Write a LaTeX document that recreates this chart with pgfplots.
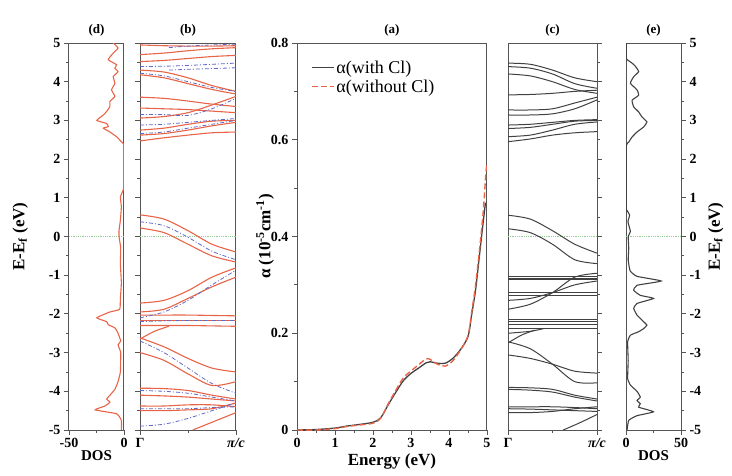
\documentclass[border=0pt]{standalone}
\usepackage{fontspec}
\setmainfont{Liberation Serif}
\usepackage{pgfplots}
\pgfplotsset{compat=1.18}
\definecolor{bred}{RGB}{232,100,72}
\definecolor{bblue}{RGB}{95,105,200}
\definecolor{bgray}{RGB}{65,65,65}
\definecolor{zgreen}{RGB}{150,205,150}
\definecolor{axgray}{RGB}{85,85,85}
\pgfplotsset{
 base/.style={scale only axis, height=387pt, anchor=south west,
   axis line style={axgray, line width=1pt},
   every tick/.style={axgray, line width=0.9pt},
   tick align=outside, major tick length=5pt, minor tick length=3pt,
   ticklabel style={font=\fontsize{14}{16}\selectfont\bfseries},
   /pgf/number format/assume math mode=true,
   title style={font=\fontsize{13}{15}\selectfont\bfseries, at={(0.5,1)}, anchor=south, yshift=-3pt},
   label style={font=\fontsize{17}{19}\selectfont\bfseries}},
 eaxis/.style={base, ymin=-5, ymax=5, ytick={-5,...,5}, minor ytick={-4.5,-3.5,...,4.5}},
 rb/.style={bred, line width=1.1pt, smooth},
 bb/.style={bblue, line width=0.8pt, smooth, dash pattern=on 4pt off 2pt on 1pt off 2pt},
 kb/.style={bgray, line width=1pt, smooth},
 zl/.style={zgreen, line width=0.8pt, densely dotted},
}
\begin{document}
\begin{tikzpicture}
\path[use as bounding box] (0,0) rectangle (732pt,475pt);
% (d)
\begin{axis}[eaxis, at={(69pt,45pt)}, width=55pt, xmin=-50, xmax=0,
  xtick={-50,0}, xticklabels={-50,0}, minor xtick={-25},
  yticklabels={-5,-4,-3,-2,-1,0,1,2,3,4,5}, ytick pos=left, xtick pos=bottom,
  title={(d)}, xlabel={DOS}, xlabel style={font=\fontsize{15}{17}\selectfont\bfseries, yshift=4pt},
  ylabel={E-E\textsubscript{f} (eV)}, ylabel style={yshift=14pt}]
\addplot[zl] coordinates {(-50,0) (0,0)};
\addplot[bred, line width=1.1pt, smooth, tension=0.25] coordinates {
(-9.8,5.0) (-5.4,4.87) (-9.8,4.74) (-14.3,4.57) (-6.8,4.44) (-8.3,4.35) (-5.4,4.26) (-9.8,4.13) (-8.3,3.96) (-11.3,3.79) (-8.3,3.62) (-12.8,3.49) (-12.8,3.36) (-15.8,3.23) (-18.8,3.14) (-24.7,3.0) (-15.8,2.92) (-14.3,2.84) (-18.8,2.8) (-12.8,2.7) (-6.8,2.58) (-2.4,2.45) (-0.3,2.38) (-0.3,1.9) (-0.3,1.25) (-1.5,1.15) (-3.3,1.02) (-2.4,0.76) (-3.3,0.42) (-4.5,0.16) (-4.5,0.0) (-3,-0.3) (-3.3,-0.7) (-2.4,-1.2) (-3.3,-1.6) (-3.9,-1.88) (-12.8,-1.95) (-24.7,-2.1) (-15.8,-2.2) (-14.3,-2.28) (-8.3,-2.36) (-5.4,-2.5) (-3,-2.7) (-5.4,-2.8) (-3,-3.0) (-3.3,-3.5) (-5.4,-3.75) (-8.3,-3.95) (-12.8,-4.1) (-15.8,-4.2) (-12.8,-4.28) (-17.3,-4.38) (-26.2,-4.48) (-6.8,-4.58) (-2.4,-4.75) (-2.4,-5.0)};
\end{axis}
% (b)
\begin{axis}[eaxis, at={(140pt,45pt)}, width=96pt, xmin=0, xmax=1,
  xtick={0,1}, xticklabels={Γ,\textit{π/c}}, minor xtick={0.5},
  yticklabels={}, ytick pos=left, xtick pos=bottom, title={(b)}]
\addplot[zl] coordinates {(0,0) (1,0)};
\addplot[rb] coordinates {(0,4.95)(0.25,4.93)(0.5,4.92)(0.75,4.92)(1,4.93)};
\addplot[rb] coordinates {(0,4.70)(0.25,4.74)(0.5,4.80)(0.75,4.85)(1,4.88)};
\addplot[rb] coordinates {(0,4.52)(0.25,4.55)(0.5,4.60)(0.75,4.65)(1,4.68)};
\addplot[rb] coordinates {(0,4.30)(0.25,4.25)(0.5,4.10)(0.75,3.90)(1,3.75)};
\addplot[rb] coordinates {(0,4.18)(0.25,4.10)(0.5,3.95)(0.75,3.80)(1,3.68)};
\addplot[rb] coordinates {(0,3.60)(0.25,3.57)(0.5,3.50)(0.75,3.42)(1,3.36)};
\addplot[rb] coordinates {(0,3.32)(0.25,3.30)(0.5,3.28)(0.75,3.24)(1,3.20)};
\addplot[rb] coordinates {(0,3.06)(0.25,3.10)(0.5,3.20)(0.75,3.40)(1,3.62)};
\addplot[rb] coordinates {(0,2.75)(0.25,2.80)(0.5,2.90)(0.75,2.98)(1,3.00)};
\addplot[rb] coordinates {(0,2.62)(0.25,2.66)(0.5,2.75)(0.75,2.86)(1,2.95)};
\addplot[rb] coordinates {(0,2.47)(0.25,2.55)(0.5,2.62)(0.75,2.68)(1,2.70)};
\addplot[bb] coordinates {(0.3,4.88)(0.5,4.92)(0.75,4.95)(1,4.97)};
\addplot[bb] coordinates {(0,4.39)(0.25,4.40)(0.5,4.42)(0.75,4.45)(1,4.48)};
\addplot[bb] coordinates {(0.3,4.30)(0.5,4.32)(0.75,4.34)(1,4.36)};
\addplot[bb] coordinates {(0,4.22)(0.25,4.15)(0.5,4.00)(0.75,3.85)(1,3.75)};
\addplot[bb] coordinates {(0,3.15)(0.25,3.15)(0.5,3.13)(0.75,3.30)(1,3.57)};
\addplot[bb] coordinates {(0,2.88)(0.25,2.90)(0.5,2.95)(0.75,3.00)(1,3.05)};
\addplot[bb] coordinates {(0,2.66)(0.25,2.70)(0.5,2.80)(0.75,2.90)(1,3.00)};
\addplot[rb] coordinates {(0,0.56)(0.25,0.45)(0.5,0.15)(0.75,-0.20)(1,-0.40)};
\addplot[rb] coordinates {(0,0.22)(0.25,0.10)(0.5,-0.20)(0.75,-0.50)(1,-0.66)};
\addplot[rb] coordinates {(0,-1.72)(0.25,-1.65)(0.5,-1.40)(0.75,-1.05)(1,-0.81)};
\addplot[rb] coordinates {(0,-1.95)(0.25,-1.88)(0.5,-1.60)(0.75,-1.30)(1,-1.05)};
\addplot[rb] coordinates {(0,-2.03)(0.25,-2.03)(0.5,-2.03)(0.75,-2.04)(1,-2.05)};
\addplot[rb] coordinates {(0,-2.17)(0.25,-2.17)(0.5,-2.17)(0.75,-2.17)(1,-2.17)};
\addplot[rb] coordinates {(0,-2.30)(0.25,-2.30)(0.5,-2.30)(0.75,-2.31)(1,-2.32)};
\addplot[rb] coordinates {(0,-2.62)(0.25,-2.85)(0.5,-3.15)(0.75,-3.40)(1,-3.50)};
\addplot[rb] coordinates {(0,-3.00)(0.25,-3.20)(0.5,-3.55)(0.75,-3.85)(1,-3.75)};
\addplot[rb] coordinates {(0,-2.65)(0.15,-2.45)(0.3,-2.32)};
\addplot[rb] coordinates {(0,-3.92)(0.25,-3.93)(0.5,-3.98)(0.75,-4.10)(1,-4.20)};
\addplot[rb] coordinates {(0,-4.10)(0.25,-4.12)(0.5,-4.15)(0.75,-4.20)(1,-4.25)};
\addplot[rb] coordinates {(0,-4.38)(0.25,-4.38)(0.5,-4.35)(0.75,-4.35)(1,-4.40)};
\addplot[rb] coordinates {(0,-4.50)(0.25,-4.50)(0.5,-4.48)(0.75,-4.45)(1,-4.30)};
\addplot[rb] coordinates {(0.55,-5)(0.75,-4.8)(1,-4.55)};
\addplot[bb] coordinates {(0,0.38)(0.25,0.28)(0.5,-0.02)(0.75,-0.38)(1,-0.60)};
\addplot[bb] coordinates {(0,-2.10)(0.25,-1.95)(0.5,-1.65)(0.75,-1.25)(1,-0.87)};
\addplot[bb] coordinates {(0,-2.20)(0.25,-2.18)(0.5,-2.17)(0.75,-2.17)(1,-2.17)};
\addplot[bb] coordinates {(0,-2.70)(0.25,-3.00)(0.5,-3.40)(0.75,-3.80)(1,-4.05)};
\addplot[bb] coordinates {(0,-3.98)(0.25,-4.00)(0.5,-4.05)(0.75,-4.15)(1,-4.25)};
\addplot[bb] coordinates {(0,-4.45)(0.25,-4.45)(0.5,-4.45)(0.75,-4.42)(1,-4.40)};
\addplot[bb] coordinates {(0,-4.90)(0.25,-4.85)(0.5,-4.70)(0.75,-4.50)(1,-4.30)};
\end{axis}
% (a)
\begin{axis}[base, at={(297pt,45pt)}, width=190pt, xmin=0, xmax=5, ymin=0, ymax=0.8,
  xtick={0,...,5}, minor xtick={0.5,1.5,...,4.5},
  ytick={0,0.2,0.4,0.6,0.8}, yticklabels={0,0.2,0.4,0.6,0.8}, minor ytick={0.1,0.3,0.5,0.7},
  ytick pos=left, xtick pos=bottom, title={(a)},
  xlabel={Energy (eV)}, xlabel style={yshift=1pt},
  ylabel={α (10\textsuperscript{-5}cm\textsuperscript{-1})}, ylabel style={yshift=-10pt},
  legend style={at={(0.06,0.965)}, anchor=north west, draw=none, fill=none,
    font=\fontsize{18}{20}\selectfont, row sep=1pt},
  legend cell align=left,
  legend image code/.code={\draw[#1] (0cm,0cm) -- (0.75cm,0cm);}]
\addplot[bgray, line width=1.3pt, smooth] coordinates {
(0,0) (0.5,0.001) (1,0.004) (1.3,0.008) (1.6,0.011) (2.0,0.016) (2.2,0.025) (2.4,0.052) (2.6,0.078) (2.8,0.102) (3.0,0.117) (3.2,0.128) (3.4,0.139) (3.5,0.141) (3.7,0.138) (3.9,0.138) (4.1,0.148) (4.3,0.166) (4.5,0.193) (4.6,0.24) (4.7,0.29) (4.8,0.36) (4.9,0.43) (4.96,0.47)};
\addlegendentry{α(with Cl)}
\addplot[bred, line width=1.4pt, smooth, dash pattern=on 6pt off 3pt] coordinates {
(0,0) (0.5,0.0) (1,0.003) (1.3,0.007) (1.6,0.010) (2.0,0.014) (2.2,0.024) (2.4,0.054) (2.6,0.082) (2.8,0.108) (3.0,0.122) (3.2,0.135) (3.4,0.147) (3.5,0.146) (3.7,0.136) (3.9,0.132) (4.1,0.143) (4.3,0.165) (4.5,0.195) (4.6,0.245) (4.7,0.30) (4.8,0.37) (4.9,0.45) (4.97,0.53) (5,0.55)};
\addlegendentry{α(without Cl)}
\end{axis}
% (c)
\begin{axis}[eaxis, at={(508pt,45pt)}, width=89pt, xmin=0, xmax=1,
  xtick={0,1}, xticklabels={Γ,\textit{π/c}}, minor xtick={0.5},
  yticklabels={}, ytick pos=right, xtick pos=bottom, title={(c)}]
\addplot[zl] coordinates {(0,0) (1,0)};
\addplot[kb] coordinates {(0,4.48)(0.25,4.45)(0.5,4.30)(0.75,4.10)(1,4.00)};
\addplot[kb] coordinates {(0,4.39)(0.25,4.35)(0.5,4.20)(0.75,3.95)(1,3.83)};
\addplot[kb] coordinates {(0,4.20)(0.25,4.15)(0.5,4.00)(0.75,3.80)(1,3.70)};
\addplot[kb] coordinates {(0,3.66)(0.25,3.67)(0.5,3.70)(0.75,3.75)(1,3.78)};
\addplot[kb] coordinates {(0,3.27)(0.25,3.27)(0.5,3.30)(0.75,3.45)(1,3.60)};
\addplot[kb] coordinates {(0,3.14)(0.25,3.14)(0.5,3.17)(0.75,3.30)(1,3.53)};
\addplot[kb] coordinates {(0,2.88)(0.25,2.90)(0.5,2.95)(0.75,3.00)(1,3.02)};
\addplot[kb] coordinates {(0,2.79)(0.25,2.82)(0.5,2.90)(0.75,2.98)(1,3.00)};
\addplot[kb] coordinates {(0,2.58)(0.25,2.62)(0.5,2.75)(0.75,2.90)(1,2.96)};
\addplot[kb] coordinates {(0,2.45)(0.25,2.52)(0.5,2.62)(0.75,2.68)(1,2.71)};
\addplot[kb] coordinates {(0,0.55)(0.25,0.45)(0.5,0.15)(0.75,-0.20)(1,-0.43)};
\addplot[kb] coordinates {(0,0.20)(0.25,0.10)(0.5,-0.20)(0.75,-0.60)(1,-0.70)};
\addplot[kb] coordinates {(0,-1.88)(0.25,-1.75)(0.5,-1.45)(0.75,-1.05)(1,-0.95)};
\addplot[kb] coordinates {(0,-1.65)(0.25,-1.60)(0.5,-1.45)(0.75,-1.25)(1,-1.15)};
\addplot[kb] coordinates {(0,-1.03)(0.5,-1.03)(1,-1.03)};
\addplot[kb] coordinates {(0,-1.08)(0.5,-1.08)(1,-1.08)};
\addplot[kb] coordinates {(0,-1.12)(0.5,-1.12)(1,-1.12)};
\addplot[kb] coordinates {(0,-1.45)(0.5,-1.45)(1,-1.45)};
\addplot[kb] coordinates {(0,-1.52)(0.5,-1.52)(1,-1.52)};
\addplot[kb] coordinates {(0,-2.15)(0.5,-2.15)(1,-2.15)};
\addplot[kb] coordinates {(0,-2.20)(0.5,-2.20)(1,-2.20)};
\addplot[kb] coordinates {(0,-2.28)(0.5,-2.28)(1,-2.28)};
\addplot[kb] coordinates {(0,-2.38)(0.5,-2.38)(1,-2.38)};
\addplot[kb] coordinates {(0,-2.50)(0.25,-2.45)(0.4,-2.38)};
\addplot[kb] coordinates {(0,-3.06)(0.25,-3.15)(0.5,-3.30)(0.75,-3.48)(1,-3.53)};
\addplot[kb] coordinates {(0,-2.72)(0.25,-2.90)(0.5,-3.30)(0.75,-3.75)(1,-3.78)};
\addplot[kb] coordinates {(0,-2.75)(0.15,-2.55)(0.3,-2.42)};
\addplot[kb] coordinates {(0,-3.90)(0.25,-3.91)(0.5,-3.95)(0.75,-4.10)(1,-4.20)};
\addplot[kb] coordinates {(0,-3.95)(0.25,-3.97)(0.5,-4.02)(0.75,-4.15)(1,-4.25)};
\addplot[kb] coordinates {(0,-4.40)(0.25,-4.40)(0.5,-4.40)(0.75,-4.42)(1,-4.45)};
\addplot[kb] coordinates {(0,-4.45)(0.25,-4.46)(0.5,-4.48)(0.75,-4.50)(1,-4.52)};
\addplot[kb] coordinates {(0,-4.55)(0.25,-4.55)(0.5,-4.52)(0.75,-4.45)(1,-4.40)};
\addplot[kb] coordinates {(0.62,-5)(0.8,-4.82)(1,-4.6)};
\end{axis}
% (e)
\begin{axis}[eaxis, at={(626pt,45pt)}, width=55pt, xmin=0, xmax=50,
  xtick={0,50}, xticklabels={0,50}, minor xtick={25},
  yticklabels={-5,-4,-3,-2,-1,0,1,2,3,4,5}, ytick pos=right, yticklabel pos=right, xtick pos=bottom,
  title={(e)}, xlabel={DOS}, xlabel style={font=\fontsize{15}{17}\selectfont\bfseries, yshift=4pt},
  ylabel={E-E\textsubscript{f} (eV)}]
\addplot[zl] coordinates {(0,0) (50,0)};
\addplot[bgray, line width=1.1pt, smooth, tension=0.25] coordinates {
(0.3,5) (0.3,4.6) (1,4.57) (5.5,4.48) (8.5,4.4) (11.5,4.26) (7,4.13) (4,3.96) (10,3.79) (11.5,3.65) (5.5,3.52) (7,3.35) (11.5,3.22) (14.5,3.09) (19,2.96) (16,2.83) (10,2.7) (5.5,2.57) (2.5,2.44) (0.3,2.35) (0.3,1.5) (0.3,0.7) (1,0.67) (3.3,0.55) (1.8,0.38) (4,0.13) (2,0) (2.5,-0.3) (2,-0.6) (3,-0.8) (4,-0.9) (10,-1.03) (32,-1.15) (10,-1.26) (7,-1.39) (13,-1.52) (25,-1.6) (10,-1.73) (7,-1.86) (10,-2.03) (14.5,-2.16) (19,-2.29) (16,-2.38) (11.5,-2.46) (4,-2.55) (1.5,-2.72) (2,-3.2) (1.5,-3.67) (4,-3.84) (10,-4.0) (13,-4.15) (10,-4.24) (13,-4.32) (11.5,-4.41) (25,-4.53) (10,-4.63) (2.5,-4.75) (1,-5)};
\end{axis}
\end{tikzpicture}
\end{document}
